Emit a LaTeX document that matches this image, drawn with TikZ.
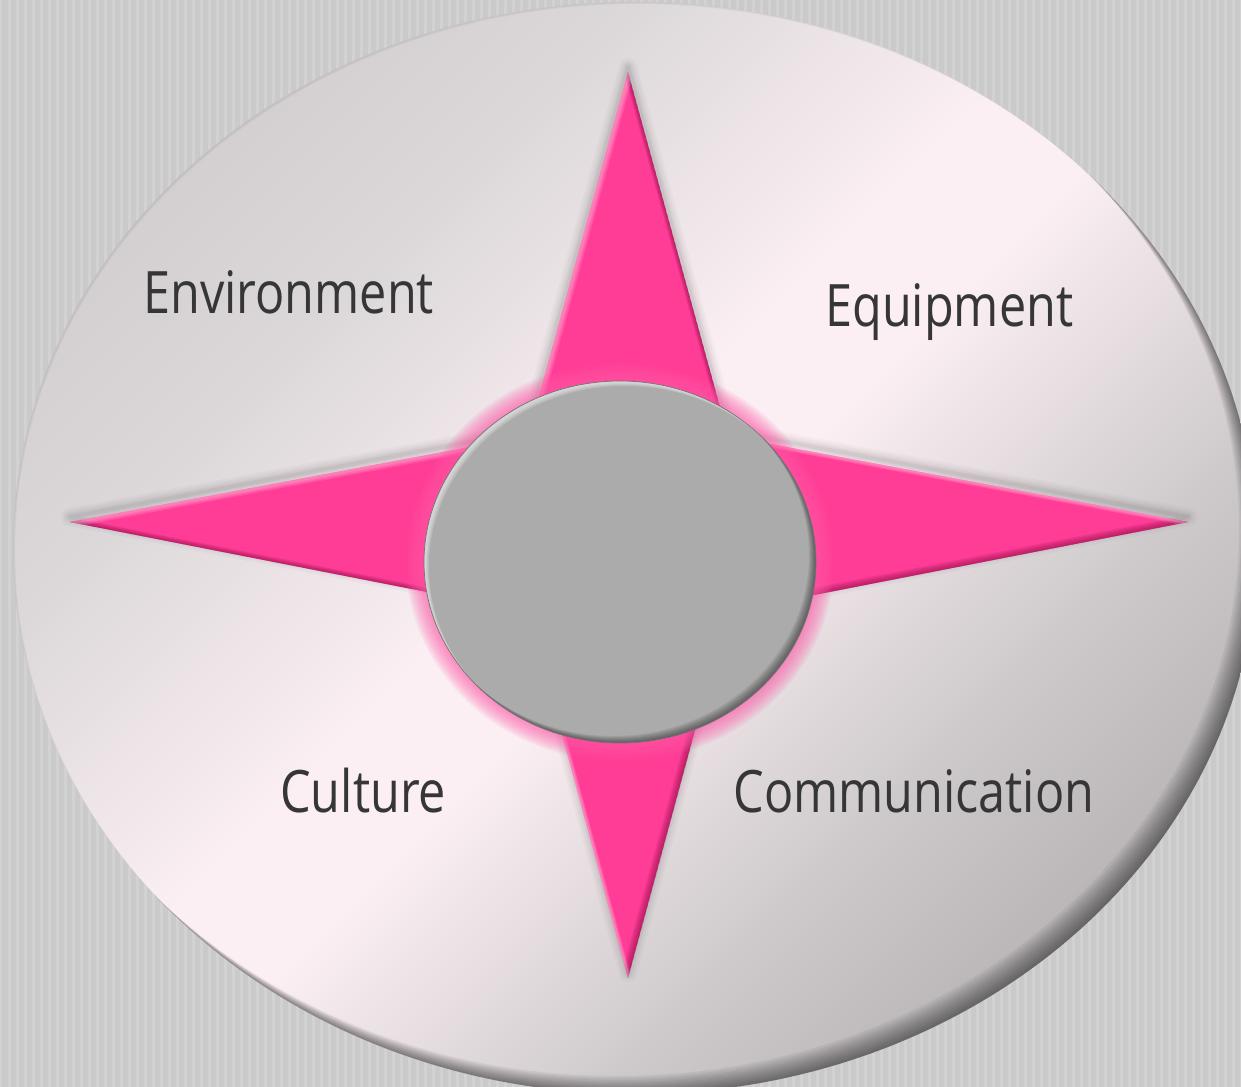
\documentclass[tikz,border=0pt]{standalone}
\usepackage{fontspec}
\newfontfamily\labfont[FakeStretch=0.83]{Open Sans}
\definecolor{bgc}{HTML}{CACACA}
\definecolor{bgs}{HTML}{D2D2D2}
\definecolor{eA}{HTML}{D3CFD1}
\definecolor{eB}{HTML}{DCD8DA}
\definecolor{eC}{HTML}{FBEFF3}
\definecolor{eD}{HTML}{CECACC}
\definecolor{eE}{HTML}{B8B4B6}
\definecolor{starpink}{HTML}{FF3C96}
\definecolor{stardark}{HTML}{8C0E48}
\definecolor{glowpink}{HTML}{FF5AA8}
\definecolor{cgray}{HTML}{ABABAB}
\definecolor{textgray}{HTML}{363636}
\pgfdeclarehorizontalshading{bigsh}{100bp}{color(0bp)=(eA); color(32bp)=(eA); color(38.4bp)=(eB); color(48bp)=(eC); color(51.5bp)=(eC); color(61bp)=(eD); color(68bp)=(eE); color(100bp)=(eE)}
\newcommand\bigell[2]{(635+#1,548+#2) ellipse [x radius=622, y radius=546]}
\newcommand\starp[2]{(628+#1,72+#2) -- (728+#1,436+#2) -- (1188+#1,522+#2) -- (727+#1,612+#2) -- (628+#1,978+#2) -- (529+#1,612+#2) -- (70+#1,522+#2) -- (528+#1,436+#2) -- cycle}
\newcommand\cell[2]{(620+#1,562+#2) ellipse [x radius=196, y radius=181]}
\tikzset{
  lab/.style={anchor=base west, inner sep=0pt, text=textgray, font=\labfont\fontsize{33.3}{40}\selectfont},
}
\begin{document}
\begin{tikzpicture}[x=0.02cm, y=-0.02cm]
\useasboundingbox (0,0) rectangle (1241,1087);
\clip (0,0) rectangle (1241,1087);
% background
\fill[bgc] (0,0) rectangle (1241,1087);
\foreach \x in {0,8,...,1240} \fill[bgs] (\x,0) rectangle (\x+2.5,1087);
% big ellipse
\begin{scope}
  \clip \bigell{0}{0};
  \begin{scope}[transform canvas={rotate around={-45:(633,548)}}]
    \shade[shading=bigsh] (633-820,548-820) rectangle (633+820,548+820);
  \end{scope}
  \foreach \s in {2,4,...,18}
    \fill[black, opacity=0.06, even odd rule] (-100,-100) rectangle (1400,1200) \bigell{-\s}{-\s};
  \foreach \s in {1,2}
    \fill[black, opacity=0.04, even odd rule] (-100,-100) rectangle (1400,1200) \bigell{\s}{\s};
\end{scope}
% star shadow
\foreach \w/\o in {18/0.025, 13/0.03, 8/0.04, 4/0.05}
  \draw[black, opacity=\o, line width=\w*0.567pt, line join=round] \starp{0}{-5};
% star
\begin{scope}
  \clip \starp{0}{0};
  \fill[starpink] \starp{0}{0};
  \foreach \s in {1,2,...,6}
    \fill[stardark, opacity=0.12, even odd rule] (0,0) rectangle (1241,1087) \starp{-\s}{-\s};
  \foreach \s in {2,3,4,5}
    \fill[white, opacity=0.1, even odd rule] (0,0) rectangle (1241,1087) \starp{\s}{\s};
\end{scope}
% glow round centre
\foreach \r in {18,16,...,2}
  \fill[glowpink, opacity=0.1] (620,562) ellipse [x radius=196+\r, y radius=181+\r];
% centre ellipse
\begin{scope}
  \clip \cell{0}{0};
  \fill[cgray] \cell{0}{0};
  \foreach \s in {1,...,7}
    \fill[black, opacity=0.07, even odd rule] (0,0) rectangle (1241,1087) \cell{-\s}{-\s};
  \foreach \s in {2,3,4,5}
    \fill[white, opacity=0.16, even odd rule] (0,0) rectangle (1241,1087) \cell{\s}{\s};
\end{scope}
\draw[black!55, line width=0.4pt] \cell{0}{0};
% labels
\node[lab] (env) at (143,314) {Environment};
\node[lab] (equ) at (825,327) {Equipment};
\node[lab] (cul) at (280,812) {Culture};
\node[lab] (com) at (733,812) {Communication};
\end{tikzpicture}
\end{document}
